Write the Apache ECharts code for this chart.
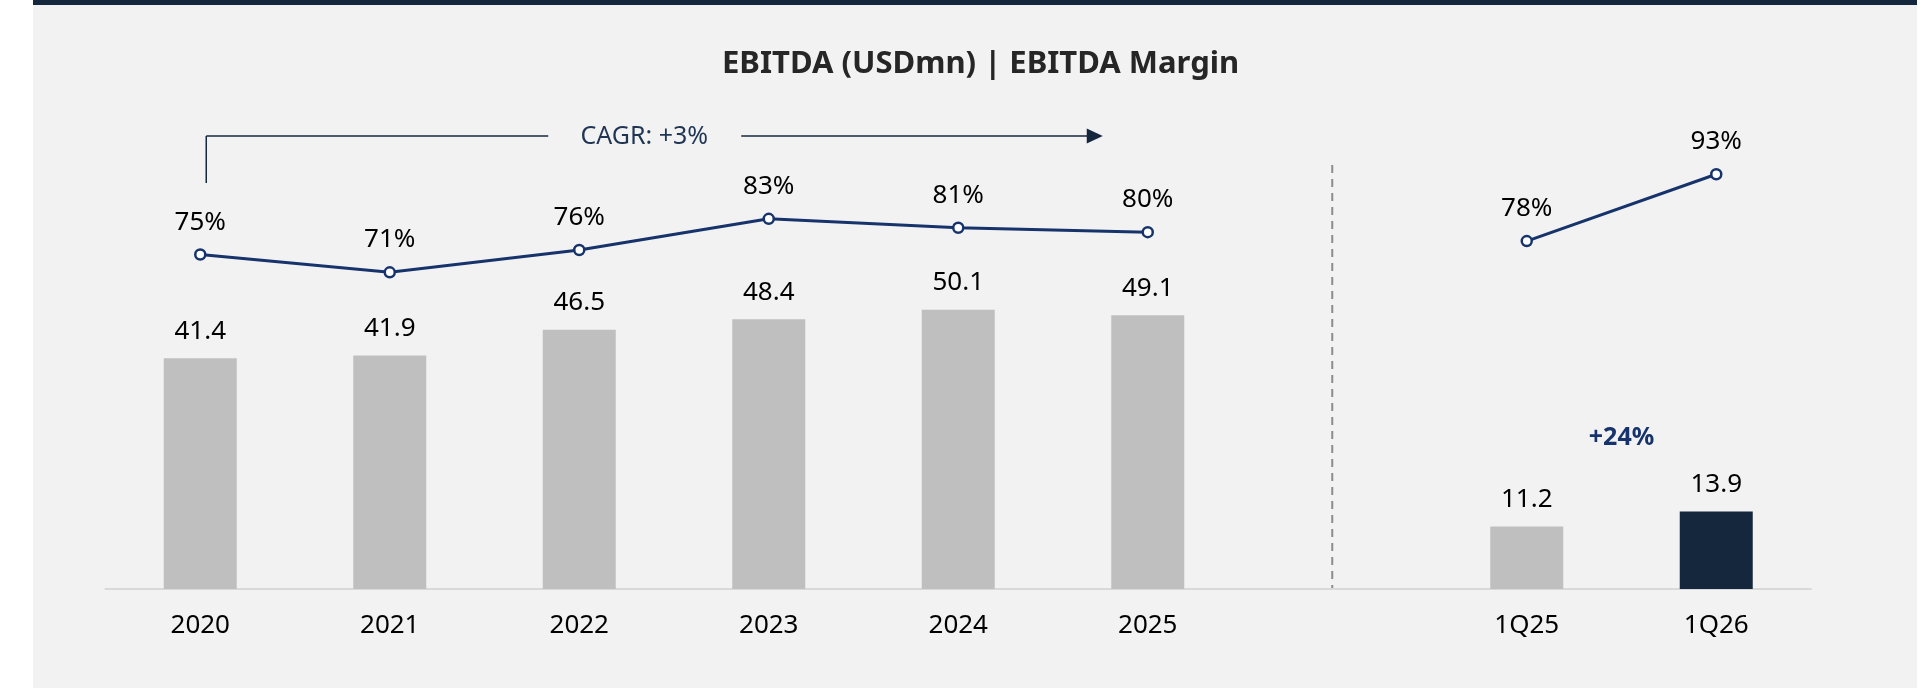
<!DOCTYPE html>
<html>
<head>
<meta charset="utf-8">
<script src="https://cdn.jsdelivr.net/npm/echarts@6/dist/echarts.min.js"></script>
<style>
    html, body { margin: 0; padding: 0; background: #ffffff; overflow: hidden; }
    #panel { position: absolute; left: 33px; top: 0; width: 1884px; height: 720px; background: #f2f2f2; border-top: 5px solid #14273d; }
    #main { position: absolute; left: 0; top: 0; width: 1926px; height: 688px; }
</style>
</head>
<body>
<div id="panel"></div>
<div id="main"></div>
<script>
const categories = ['2020', '2021', '2022', '2023', '2024', '2025', '', '1Q25', '1Q26'];
const ebitda = [41.4, 41.9, 46.5, 48.4, 50.1, 49.1, null, 11.2, 13.9];
const margin = [75, 71, 76, 83, 81, 80, null, 78, 93];
const highlightCategory = '1Q26';
const cagrText = 'CAGR: +3%';
const growthText = '+24%';

const FONT = 'Noto Sans';
const NAVY = '#17336b';

let chart = echarts.init(document.getElementById('main'), null, { renderer: 'canvas' });

const option = {
    backgroundColor: 'transparent',
    animation: false,
    title: {
        text: 'EBITDA (USDmn) | EBITDA Margin',
        left: 717,
        top: 44,
        textStyle: {
            fontFamily: FONT,
            fontSize: 31,
            fontWeight: 'bold',
            color: '#262626'
        }
    },
    grid: {
        left: 105.5,
        right: 115,
        top: 143,
        bottom: 99,
        containLabel: false
    },
    xAxis: {
        type: 'category',
        data: categories,
        axisLine: {
            lineStyle: { color: '#d9d9d9', width: 2 }
        },
        axisTick: { show: false },
        axisLabel: {
            margin: 24,
            fontFamily: FONT,
            fontSize: 26,
            color: '#000000'
        },
        splitLine: { show: false }
    },
    yAxis: [
        { type: 'value', min: 0, max: 80, show: false, splitLine: { show: false } },
        { type: 'value', min: 0, max: 100, show: false, splitLine: { show: false } }
    ],
    series: [
        {
            name: 'EBITDA',
            type: 'bar',
            barWidth: 73,
            data: ebitda.map((v, i) => categories[i] === highlightCategory
                ? { value: v, itemStyle: { color: '#14273d' } }
                : v),
            itemStyle: { color: '#bfbfbf' },
            label: {
                show: true,
                position: 'top',
                distance: 14,
                fontFamily: FONT,
                fontSize: 26,
                color: '#000000',
                formatter: (p) => p.value == null ? '' : p.value.toFixed(1)
            }
        },
        {
            name: 'EBITDA Margin',
            type: 'line',
            yAxisIndex: 1,
            data: margin,
            connectNulls: false,
            symbol: 'circle',
            symbolSize: 10,
            lineStyle: { color: NAVY, width: 3 },
            itemStyle: { color: '#ffffff', borderColor: NAVY, borderWidth: 2.5 },
            label: {
                show: true,
                position: 'top',
                distance: 13,
                fontFamily: FONT,
                fontSize: 26,
                color: '#000000',
                formatter: (p) => p.value == null ? '' : p.value + '%'
            },
            z: 5
        }
    ]
};
chart.setOption(option);

// annotations placed relative to the axis positions
const xOf = (i) => chart.convertToPixel({ xAxisIndex: 0 }, i);
const base = chart.convertToPixel({ yAxisIndex: 0 }, 0);
const gapIdx = categories.indexOf('');
const x0 = xOf(0) + 6;
const xTip = xOf(5) - 45;
const yBr = 136;
const textX = x0 + 438;

chart.setOption({
    graphic: [
        { type: 'line', shape: { x1: x0, y1: yBr + 47, x2: x0, y2: yBr }, style: { stroke: '#14273d', lineWidth: 1.5 } },
        { type: 'line', shape: { x1: x0, y1: yBr, x2: textX - 96, y2: yBr }, style: { stroke: '#14273d', lineWidth: 1.5 } },
        { type: 'line', shape: { x1: textX + 97, y1: yBr, x2: xTip - 14, y2: yBr }, style: { stroke: '#14273d', lineWidth: 1.5 } },
        { type: 'polygon', shape: { points: [[xTip - 16, yBr - 7.5], [xTip, yBr], [xTip - 16, yBr + 7.5]] }, style: { fill: '#14273d' } },
        {
            type: 'text', x: textX, y: yBr + 1,
            style: { text: cagrText, fontFamily: FONT, fontSize: 25, fill: '#1f3553', align: 'center', verticalAlign: 'middle' }
        },
        {
            type: 'line',
            shape: { x1: xOf(gapIdx) - 5, y1: 165, x2: xOf(gapIdx) - 5, y2: base },
            style: { stroke: '#8c8c8c', lineWidth: 2, lineDash: [8, 6] }
        },
        {
            type: 'text',
            x: (xOf(7) + xOf(8)) / 2, y: 438,
            style: { text: growthText, fontFamily: FONT, fontSize: 25, fontWeight: 'bold', fill: NAVY, align: 'center', verticalAlign: 'middle' }
        }
    ]
});
</script>
</body>
</html>
